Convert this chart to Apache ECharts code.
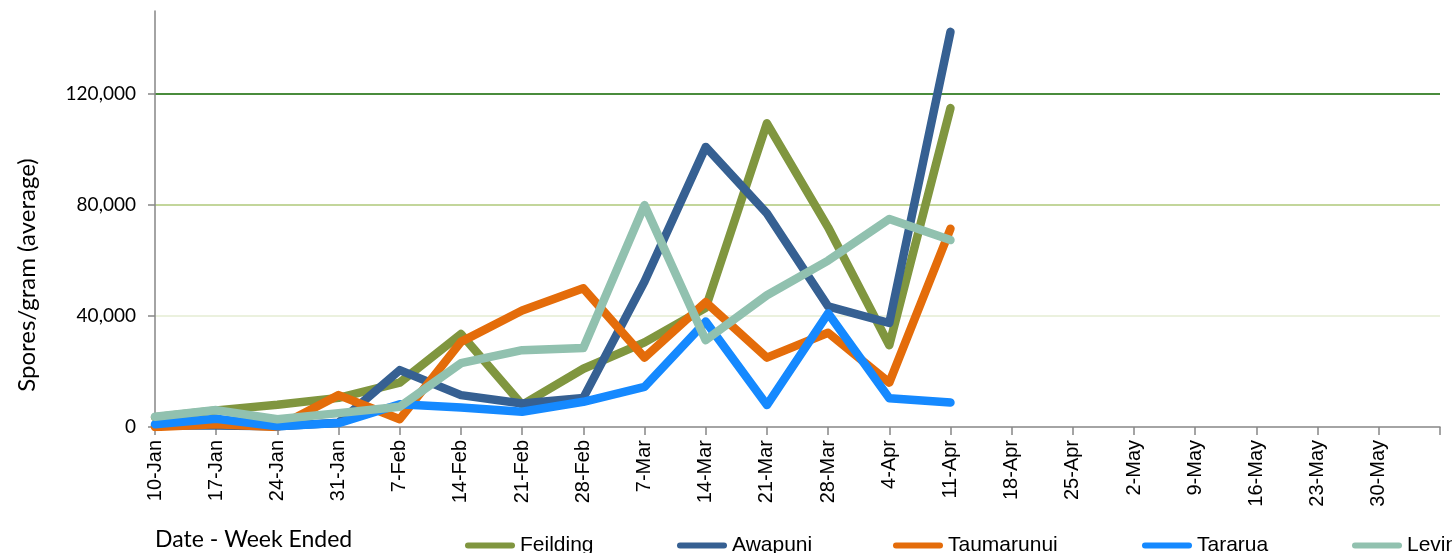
<!DOCTYPE html>
<html>
<head>
<meta charset="utf-8">
<script src="https://cdn.jsdelivr.net/npm/echarts@6/dist/echarts.min.js"></script>
<style>
html,body{margin:0;padding:0;background:#fff;}
#chart{width:1452px;height:553px;}
</style>
</head>
<body>
<div id="chart"></div>
<script>
const categories = ['10-Jan','17-Jan','24-Jan','31-Jan','7-Feb','14-Feb','21-Feb','28-Feb','7-Mar','14-Mar','21-Mar','28-Mar','4-Apr','11-Apr','18-Apr','25-Apr','2-May','9-May','16-May','23-May','30-May',''];
const feilding   = [3500, 6000, 8000, 10500, 16000, 33500, 8000, 21000, 30500, 43000, 109500, 72000, 29500, 115000];
const awapuni    = [500, 500, 300, 1500, 20500, 11500, 8500, 10500, 52500, 101000, 77000, 43500, 37500, 142500];
const taumarunui = [0, 1000, 0, 11500, 2800, 30700, 42000, 50000, 25000, 45000, 25000, 34000, 16000, 71500];
const tararua    = [1000, 3000, 300, 1400, 8200, 7000, 5500, 9100, 14500, 38000, 7900, 41000, 10400, 8800];
const levin      = [3700, 6100, 2800, 5000, 7300, 23000, 27700, 28500, 80000, 31300, 47500, 60000, 75000, 67400];
const yTicks = [0, 40000, 80000, 120000];
const seriesNames = ['Feilding','Awapuni','Taumarunui','Tararua','Levin'];
const seriesData = [feilding, awapuni, taumarunui, tararua, levin];
const colors = ['#80963F','#366092','#E46C0A','#1589FF','#91C1AF'];
const legendLefts = [465, 677, 893, 1142, 1352];

const chart = echarts.init(document.getElementById('chart'), null, {renderer:'canvas'});
const pill = 'path://M3,0L47,0A3,3,0,0,1,47,6L3,6A3,3,0,0,1,3,0Z';

const option = {
  animation: false,
  backgroundColor: '#fff',
  grid: {left: 155, right: 12, top: 11, bottom: 126, containLabel: false},
  xAxis: {
    type: 'category',
    data: categories,
    boundaryGap: false,
    axisLine: {lineStyle: {color: '#868686', width: 1.5}},
    axisTick: {show: true, interval: 0, length: 8, lineStyle: {color: '#868686', width: 1.5}},
    axisLabel: {interval: 0, rotate: 90, margin: 13, fontSize: 20, fontFamily: 'Liberation Sans', color: '#000'},
    splitLine: {show: false}
  },
  yAxis: {
    type: 'value',
    min: 0, max: 150000, interval: 40000,
    axisLine: {show: true, lineStyle: {color: '#868686', width: 1.5}},
    axisTick: {show: true, length: 7, lineStyle: {color: '#868686', width: 1.5}},
    axisLabel: {
      showMaxLabel: false, margin: 19, fontSize: 19, fontFamily: 'Lato', color: '#000',
      formatter: v => yTicks.indexOf(v) >= 0 ? v.toLocaleString('en-US') : ''
    },
    splitLine: {show: true, lineStyle: {width: 2, color: ['rgba(0,0,0,0)', '#ebf1de', '#c3d69b', '#4a8c3c', 'rgba(0,0,0,0)']}}
  },
  legend: seriesNames.map((n, i) => ({
    data: [n], left: legendLefts[i], top: 535, orient: 'horizontal', padding: 0,
    icon: pill, itemWidth: 50, itemHeight: 7, itemGap: 2,
    textStyle: {fontSize: 21, fontFamily: 'Liberation Sans', color: '#000'},
    selectedMode: false
  })),
  graphic: [
    {type: 'text', x: 27, y: 275, rotation: Math.PI/2,
     style: {text: 'Spores/gram (average)', font: '24px Lato', fill: '#000', textAlign: 'center', textVerticalAlign: 'middle'}},
    {type: 'text', x: 155, y: 540,
     style: {text: 'Date - Week Ended', font: '23px Lato', fill: '#000', textAlign: 'left', textVerticalAlign: 'middle'}}
  ],
  series: seriesNames.map((n, i) => ({
    name: n, type: 'line', data: seriesData[i],
    showSymbol: false, symbol: 'none', smooth: false,
    color: colors[i],
    lineStyle: {width: 8.5, color: colors[i], cap: 'round', join: 'round'},
    emphasis: {disabled: true}
  }))
};
chart.setOption(option);
</script>
</body>
</html>
